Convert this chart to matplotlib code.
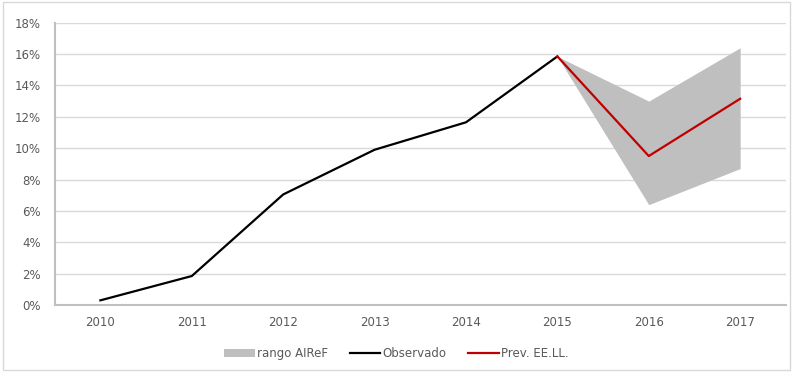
import matplotlib
matplotlib.use("Agg")
import matplotlib.pyplot as plt
from matplotlib.patches import Patch, Rectangle
from matplotlib.lines import Line2D
from matplotlib.ticker import FuncFormatter, MultipleLocator

years = ["2010", "2011", "2012", "2013", "2014", "2015", "2016", "2017"]
observado = [0.3, 1.85, 7.05, 9.9, 11.65, 15.85]
prev_years = ["2015", "2016", "2017"]
prev = [15.85, 9.5, 13.15]
rango_low = [15.85, 6.4, 8.7]
rango_high = [15.85, 13.0, 16.4]

plt.rcParams["font.family"] = ["DejaVu Sans"]
text_color = "#595959"

fig = plt.figure(figsize=(7.93, 3.72), dpi=100)
ax = fig.add_axes([0.069, 0.18, 0.922, 0.759])

xpos = {y: i for i, y in enumerate(years)}
px = [xpos[y] for y in prev_years]
ox = [xpos[y] for y in years[:len(observado)]]

ax.fill_between(px, rango_low, rango_high, color="#BFBFBF", linewidth=0, zorder=2)
ax.plot(ox, observado, color="black", linewidth=1.6, zorder=3)
ax.plot(px, prev, color="#C00000", linewidth=1.6, zorder=4)

ax.set_xlim(-0.5, len(years) - 0.5)
ax.set_ylim(0, 18)
ax.set_xticks(range(len(years)))
ax.set_xticklabels(years)
ax.yaxis.set_major_locator(MultipleLocator(2))
ax.yaxis.set_major_formatter(FuncFormatter(lambda v, p: f"{v:.0f}%"))
ax.tick_params(axis="both", length=0, labelsize=8.5, colors=text_color, pad=8)
ax.tick_params(axis="y", pad=10)

ax.grid(axis="y", color="#D9D9D9", linewidth=1)
ax.set_axisbelow(True)
for s in ["top", "right"]:
    ax.spines[s].set_visible(False)
for s in ["left", "bottom"]:
    ax.spines[s].set_color("#BFBFBF")
    ax.spines[s].set_linewidth(1.5)

handles = [
    Patch(facecolor="#BFBFBF", edgecolor="none", label="rango AIReF"),
    Line2D([], [], color="black", linewidth=1.6, label="Observado"),
    Line2D([], [], color="#C00000", linewidth=1.6, label="Prev. EE.LL."),
]
leg = fig.legend(handles=handles, loc="center", bbox_to_anchor=(0.5, 0.05), ncol=3,
                 frameon=False, fontsize=8.5, handlelength=2.6, handletextpad=0.2,
                 columnspacing=1.8)
for t in leg.get_texts():
    t.set_color(text_color)

fig.patches.append(Rectangle((0.004, 0.005), 0.992, 0.99, transform=fig.transFigure,
                             fill=False, edgecolor="#D9D9D9", linewidth=1))

fig.savefig("out.png", dpi=100)
